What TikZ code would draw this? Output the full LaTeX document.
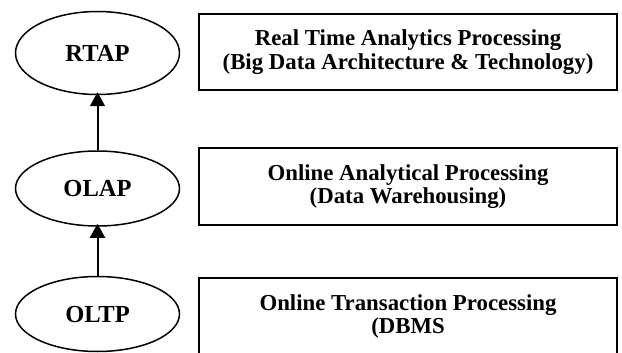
\documentclass[tikz,border=0pt]{standalone}
\usepackage{fontspec}
\setmainfont{Liberation Serif}
\usetikzlibrary{arrows.meta,shapes.geometric}
\begin{document}
\begin{tikzpicture}[x=1pt,y=-1pt,
  lvl/.style={draw, ellipse, line width=1.5pt, inner sep=0pt, minimum width=164pt,
    text depth=0pt, font=\fontsize{24.5}{26}\selectfont\bfseries},
  descbox/.style={draw, rectangle, line width=2pt, inner sep=0pt, minimum width=418pt,
    minimum height=77pt, align=center, font=\fontsize{22.8}{23.5}\selectfont\bfseries},
  up/.style={line width=2pt, -{Triangle[width=15pt,length=14pt]}, shorten >=-3pt}]
\useasboundingbox (0,0) rectangle (622,353);
\clip (0,0) rectangle (622,353);
\fill[white] (0,0) rectangle (622,353);
\node[lvl, minimum height=83pt] (rtap) at (97.5,53) {RTAP};
\node[lvl, minimum height=75pt] (olap) at (97.5,188.5) {OLAP};
\node[lvl, minimum height=75pt] (oltp) at (97.5,314) {OLTP};
\node[descbox, minimum height=76pt] (b1) at (408,52) {Real Time Analytics Processing\\(Big Data Architecture \& Technology)};
\node[descbox] (b2) at (408,186.5) {Online Analytical Processing\\(Data Warehousing)};
\node[descbox] (b3) at (408,316.5) {Online Transaction Processing\\(DBMS};
\draw[up] (olap.north) -- (rtap.south);
\draw[up] (oltp.north) -- (olap.south);
\end{tikzpicture}
\end{document}
